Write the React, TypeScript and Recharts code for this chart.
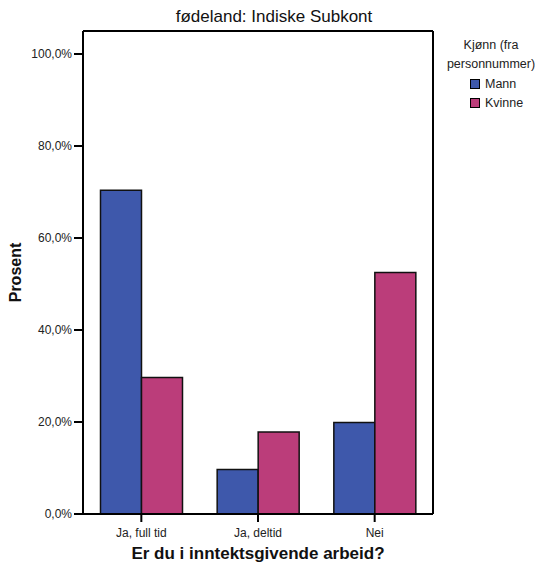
import { BarChart, Bar, XAxis, YAxis } from "recharts";

const categories = ["Ja, full tid", "Ja, deltid", "Nei"];
const mann = [70.4, 9.7, 19.9];
const kvinne = [29.7, 17.8, 52.5];
const yTicks = [0, 20, 40, 60, 80, 100];

const SERIES = [
  { key: "Mann", color: "#3e58ab" },
  { key: "Kvinne", color: "#bb3d7a" },
];

const FONT = "'Liberation Sans', Arial, sans-serif";

const data = categories.map((c, i) => ({ name: c, Mann: mann[i], Kvinne: kvinne[i] }));

const fmt = (v: number) => `${v.toFixed(1).replace(".", ",")}%`;

function LegendBox() {
  return (
    <div style={{ fontFamily: FONT, fontSize: 12.5, color: "#222", width: 96 }}>
      <div style={{ textAlign: "center", lineHeight: "19px" }}>Kjønn (fra</div>
      <div style={{ textAlign: "center", lineHeight: "19px", whiteSpace: "nowrap" }}>personnummer)</div>
      {SERIES.map((s) => (
        <div key={s.key} style={{ display: "flex", alignItems: "center", height: 19, paddingLeft: 27 }}>
          <span
            style={{
              display: "inline-block",
              width: 8,
              height: 8,
              background: s.color,
              border: "1px solid #000",
              marginRight: 5,
            }}
          />
          {s.key}
        </div>
      ))}
    </div>
  );
}

export default function App() {
  return (
    <div style={{ position: "absolute", left: 0, top: 0, width: 538, height: 565, background: "#fff" }}>
      <div
        style={{
          position: "absolute",
          left: 74,
          width: 400,
          top: 7,
          textAlign: "center",
          fontFamily: FONT,
          fontSize: 17,
          color: "#111",
        }}
      >
        fødeland: Indiske Subkont
      </div>
      <div style={{ position: "absolute", left: 443, top: 36 }}>
        <LegendBox />
      </div>
      <BarChart
        width={538}
        height={565}
        data={data}
        margin={{ top: 30, right: 104, bottom: 4, left: 23 }}
        barCategoryGap="15%"
        barGap={0}
      >
        <XAxis
          dataKey="name"
          height={47}
          stroke="#000"
          strokeWidth={2}
          tickSize={8}
          tick={{ fill: "#222", fontSize: 12, fontFamily: FONT }}
          tickMargin={6}
          label={{
            value: "Er du i inntektsgivende arbeid?",
            position: "insideBottom",
            offset: 2,
            style: { fontWeight: "bold", fontSize: 17, fill: "#111", fontFamily: FONT },
          }}
        />
        <XAxis xAxisId="top" orientation="top" height={1} tick={false} tickLine={false} stroke="#000" strokeWidth={2} />
        <YAxis
          width={60}
          domain={[0, 105]}
          ticks={yTicks}
          tickFormatter={fmt}
          interval={0}
          stroke="#000"
          strokeWidth={2}
          tickSize={9}
          tick={{ fill: "#222", fontSize: 12, fontFamily: FONT }}
          tickMargin={2}
          label={{
            value: "Prosent",
            angle: -90,
            position: "insideLeft",
            offset: -8,
            style: { textAnchor: "middle", fontWeight: "bold", fontSize: 16, fill: "#111", fontFamily: FONT },
          }}
        />
        <YAxis yAxisId="right" orientation="right" width={1} tick={false} tickLine={false} stroke="#000" strokeWidth={2} />
        {SERIES.map((s) => (
          <Bar
            key={s.key}
            dataKey={s.key}
            fill={s.color}
            stroke="#111"
            strokeWidth={1.5}
            isAnimationActive={false}
          />
        ))}
      </BarChart>
    </div>
  );
}
